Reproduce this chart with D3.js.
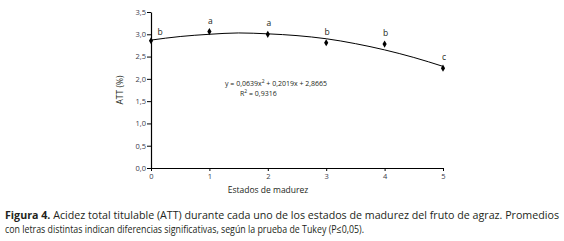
<!DOCTYPE html>
<html>
<head>
<meta charset="utf-8">
<script src="https://cdn.jsdelivr.net/npm/d3@7"></script>
<style>
  body { margin: 0; background: #fff; }
  text { font-family: "Open Sans", "Noto Sans", sans-serif; fill: #231f20; }
</style>
</head>
<body>
<div id="chart"></div>
<script>
// Estados de madurez y ATT promedio (%)
const estados = [0, 1, 2, 3, 4, 5];
const att = [2.855, 3.06, 3.0, 2.81, 2.78, 2.24];
const letras = ["b", "a", "a", "b", "b", "c"];

// linea de tendencia
const tendX = [0, 0.5, 1, 1.5, 2, 2.5, 3, 3.5, 4, 4.5, 5];
const tendY = [2.87, 2.95, 3.0, 3.03, 3.01, 2.97, 2.9, 2.79, 2.65, 2.48, 2.28];

const yTicks = [0, 0.5, 1, 1.5, 2, 2.5, 3, 3.5];
const xTicks = [0, 1, 2, 3, 4, 5];

const width = 564, height = 241;

const svg = d3.select("#chart")
    .append("svg")
    .attr("width", width)
    .attr("height", height);

const x = d3.scaleLinear().domain([0, 5]).range([151, 443]);
const y = d3.scaleLinear().domain([0, 3.5]).range([168, 12]);

const fmt = d => d3.format(".1f")(d).replace(".", ",");

// y axis
const yAxis = svg.append("g")
    .attr("transform", "translate(151,0)")
    .call(d3.axisLeft(y).tickValues(yTicks).tickFormat(fmt).tickSize(4).tickSizeOuter(0));
yAxis.select(".domain").attr("stroke", "#000").attr("stroke-width", 1.2);
yAxis.selectAll("line").attr("stroke", "#000");
yAxis.selectAll("text").attr("font-size", 7.5).attr("x", -5).style("fill", "#3a3a4a");

// x axis
const xAxis = svg.append("g")
    .attr("transform", "translate(0,168)")
    .call(d3.axisBottom(x).tickValues(xTicks).tickFormat(d3.format("d")).tickSize(3).tickSizeOuter(0));
xAxis.select(".domain").attr("stroke", "#000").attr("stroke-width", 1.2);
xAxis.selectAll("line").attr("stroke", "#000");
xAxis.selectAll("text").attr("font-size", 7.5).attr("y", 6).style("fill", "#3a3a4a");

// titulos de ejes
svg.append("text")
    .attr("transform", "translate(123,90) rotate(-90)")
    .attr("text-anchor", "middle")
    .attr("font-size", 8.5)
    .text("ATT (%)");

svg.append("text")
    .attr("x", 268)
    .attr("y", 193)
    .attr("text-anchor", "middle")
    .attr("font-size", 8.5)
    .text("Estados de madurez");

// tendencia
const line = d3.line()
    .x((d, i) => x(tendX[i]))
    .y(d => y(d))
    .curve(d3.curveMonotoneX);

svg.append("path")
    .datum(tendY)
    .attr("fill", "none")
    .attr("stroke", "#000")
    .attr("stroke-width", 1)
    .attr("d", line);

// puntos
svg.selectAll(".pt")
    .data(att)
    .join("path")
    .attr("class", "pt")
    .attr("d", d3.symbol(d3.symbolDiamond, 15))
    .attr("transform", (d, i) => `translate(${x(estados[i])},${y(d)})`)
    .attr("fill", "#000");

// letras de Tukey
svg.selectAll(".letra")
    .data(letras)
    .join("text")
    .attr("class", "letra")
    .attr("x", (d, i) => i === 0 ? x(estados[i]) + 9 : x(estados[i]) + 1)
    .attr("y", (d, i) => i === 0 ? y(att[i]) - 6 : y(att[i]) - 8)
    .attr("text-anchor", "middle")
    .attr("font-size", 8.5)
    .text(d => d);

// ecuacion
svg.append("text")
    .attr("x", 225)
    .attr("y", 86)
    .attr("font-size", 7)
    .html("y = 0,0639x<tspan dy='-3' font-size='5'>2</tspan><tspan dy='3'> + 0,2019x + 2,8665</tspan>");

svg.append("text")
    .attr("x", 240)
    .attr("y", 96)
    .attr("font-size", 7)
    .html("R<tspan dy='-3' font-size='5'>2</tspan><tspan dy='3'> = 0,9316</tspan>");

// leyenda de la figura
const cap1 = svg.append("text")
    .attr("x", 5)
    .attr("y", 219)
    .attr("font-size", 10.5)
    .attr("textLength", 554)
    .attr("lengthAdjust", "spacingAndGlyphs");
cap1.append("tspan").attr("font-weight", "bold").text("Figura 4.");
cap1.append("tspan").text(" Acidez total titulable (ATT) durante cada uno de los estados de madurez del fruto de agraz. Promedios");

svg.append("text")
    .attr("x", 5)
    .attr("y", 233)
    .attr("font-size", 10.5)
    .attr("textLength", 359)
    .attr("lengthAdjust", "spacingAndGlyphs")
    .text("con letras distintas indican diferencias significativas, según la prueba de Tukey (P\u22640,05).");
</script>
</body>
</html>
